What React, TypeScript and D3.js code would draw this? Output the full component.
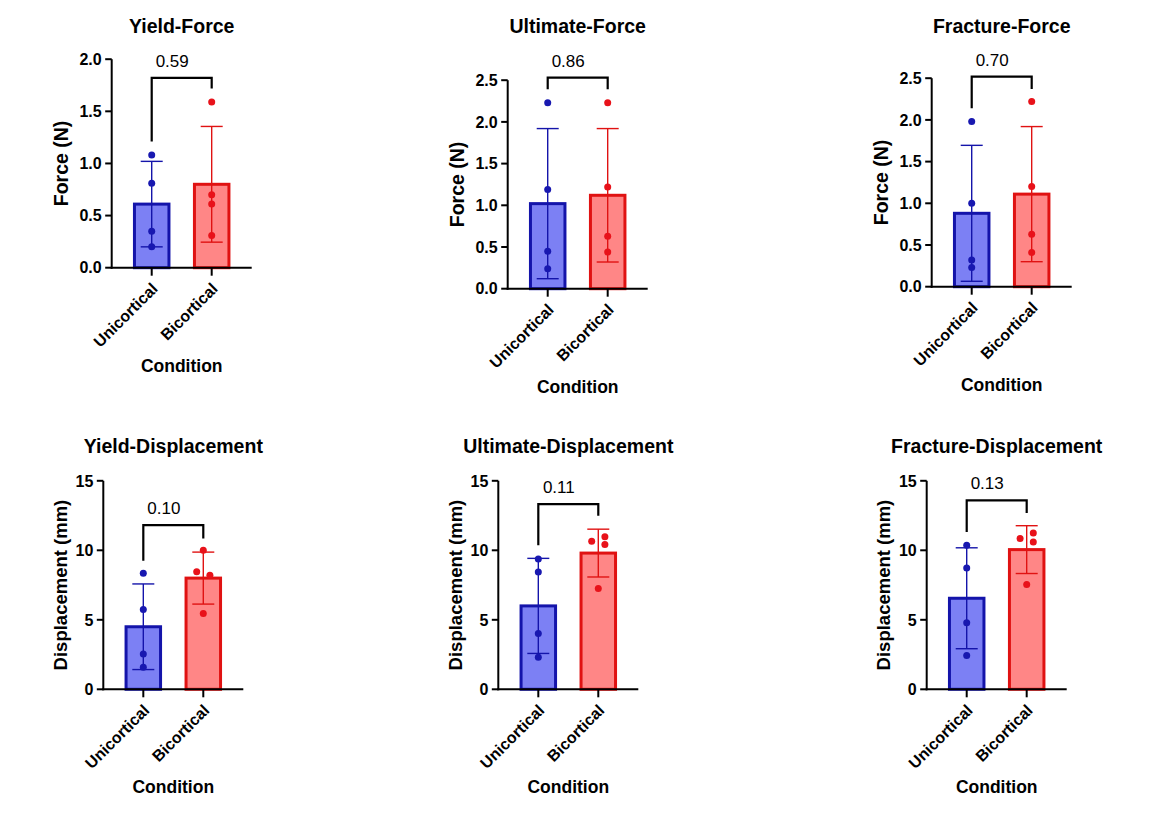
import * as d3 from 'd3';

// ---- data ----
const conditions = ['Unicortical', 'Bicortical'];
const titles = [
  'Yield-Force',
  'Ultimate-Force',
  'Fracture-Force',
  'Yield-Displacement',
  'Ultimate-Displacement',
  'Fracture-Displacement',
];
const yTitles = ['Force (N)', 'Force (N)', 'Force (N)', 'Displacement (mm)', 'Displacement (mm)', 'Displacement (mm)'];
const yMax = [2.0, 2.5, 2.5, 15, 15, 15];
const tickStep = [0.5, 0.5, 0.5, 5, 5, 5];
const pValues = ['0.59', '0.86', '0.70', '0.10', '0.11', '0.13'];

const uniMean = [0.61, 1.02, 0.88, 4.5, 6.0, 6.55];
const uniSD = [0.41, 0.9, 0.815, 3.08, 3.42, 3.63];
const bicMean = [0.8, 1.12, 1.11, 8.0, 9.8, 10.05];
const bicSD = [0.555, 0.8, 0.81, 1.87, 1.72, 1.72];

const uniPoints = [
  [1.08, 0.81, 0.35, 0.2],
  [2.23, 1.19, 0.45, 0.24],
  [1.98, 1.0, 0.32, 0.23],
  [8.34, 5.75, 2.54, 1.58],
  [9.38, 8.44, 4.02, 2.3],
  [10.36, 8.73, 4.78, 2.44],
];
const bicPoints = [
  [1.59, 0.7, 0.61, 0.31],
  [2.23, 1.22, 0.63, 0.44],
  [2.22, 1.2, 0.63, 0.41],
  [10.0, 8.45, 8.2, 5.45],
  [10.97, 10.66, 10.42, 7.26],
  [11.24, 10.84, 10.6, 7.54],
];

// comparison bracket levels (data units)
const bracketTop = [1.82, 2.53, 2.52, 11.81, 13.32, 13.59];
const bracketLeft = [1.21, 2.39, 2.14, 9.24, 10.37, 11.32];
const bracketRight = [1.72, 2.39, 2.37, 10.85, 12.48, 12.68];

// ---- layout ----
const PANELS = [
  { x: 111.7, y0: 267.7, titleY: 33.3, yTitleDx: 51, yTitleSize: 19.5 },
  { x: 507.7, y0: 288.7, titleY: 33.3, yTitleDx: 51, yTitleSize: 19.5 },
  { x: 931.7, y0: 286.7, titleY: 33.3, yTitleDx: 51, yTitleSize: 19.5 },
  { x: 103.3, y0: 689.3, titleY: 453.3, yTitleDx: 43, yTitleSize: 18.5 },
  { x: 498.3, y0: 689.3, titleY: 453.3, yTitleDx: 43, yTitleSize: 18.5 },
  { x: 926.7, y0: 689.3, titleY: 453.3, yTitleDx: 43, yTitleSize: 18.5 },
];
const PLOT_W = 140;
const PLOT_H = 208.5;
const BAR_W = 34.5;
const DOT_R = 3.5;
const FONT = '"Liberation Sans", Arial, Helvetica, sans-serif';

const COLORS = [
  { fill: '#7c80f4', stroke: '#1414aa', dot: '#1818b0' },
  { fill: '#ff8686', stroke: '#e01212', dot: '#e8121a' },
];

// spread points whose dots would overlap, alternating right/left from the lowest one
function dodge(values: number[], y: (v: number) => number, step = 6.6, thr = 6.5) {
  const order = values.map((v, i) => i).sort((a, b) => values[a] - values[b]);
  const offsets = values.map(() => 0);
  let group: number[] = [];
  const flush = () => {
    if (group.length > 1) group.forEach((idx, k) => (offsets[idx] = k % 2 === 0 ? step : -step));
    group = [];
  };
  order.forEach((idx, k) => {
    if (k > 0 && Math.abs(y(values[idx]) - y(values[order[k - 1]])) >= thr) flush();
    group.push(idx);
  });
  flush();
  return offsets;
}

function Panel({ i }: { i: number }) {
  const p = PANELS[i];
  const x = d3.scalePoint<string>().domain(conditions).range([0, PLOT_W]).padding(0.667);
  const y = d3.scaleLinear().domain([0, yMax[i]]).range([p.y0, p.y0 - PLOT_H]);
  const ticks = d3.range(0, yMax[i] + tickStep[i] / 2, tickStep[i]);
  const fmt = yMax[i] < 5 ? d3.format('.1f') : d3.format('d');

  const groups = [
    { mean: uniMean[i], sd: uniSD[i], pts: uniPoints[i] },
    { mean: bicMean[i], sd: bicSD[i], pts: bicPoints[i] },
  ];
  const cx = (c: string) => p.x + (x(c) ?? 0);
  const xL = cx(conditions[0]);
  const xR = cx(conditions[1]);
  const midX = p.x + PLOT_W / 2;

  return (
    <g fontFamily={FONT}>
      <text x={midX} y={p.titleY} textAnchor="middle" fontWeight="bold" fontSize={19.5} fill="#000">
        {titles[i]}
      </text>

      {groups.map((g, k) => {
        const c = cx(conditions[k]);
        const col = COLORS[k];
        const offs = dodge(g.pts, y);
        return (
          <g key={k}>
            <rect
              x={c - BAR_W / 2}
              y={y(g.mean)}
              width={BAR_W}
              height={p.y0 - y(g.mean)}
              fill={col.fill}
              stroke={col.stroke}
              strokeWidth={3}
            />
            <line x1={c} x2={c} y1={y(g.mean + g.sd)} y2={y(g.mean - g.sd)} stroke={col.stroke} strokeWidth={1.4} />
            <line x1={c - 11} x2={c + 11} y1={y(g.mean + g.sd)} y2={y(g.mean + g.sd)} stroke={col.stroke} strokeWidth={1.4} />
            <line x1={c - 11} x2={c + 11} y1={y(g.mean - g.sd)} y2={y(g.mean - g.sd)} stroke={col.stroke} strokeWidth={1.4} />
            {g.pts.map((v, j) => (
              <circle key={j} cx={c + offs[j]} cy={y(v)} r={DOT_R} fill={col.dot} />
            ))}
          </g>
        );
      })}

      {/* y axis */}
      <line x1={p.x} x2={p.x} y1={p.y0 + 1} y2={y(yMax[i])} stroke="#000" strokeWidth={2} />
      {ticks.map((t) => (
        <g key={t}>
          <line x1={p.x - 6.5} x2={p.x} y1={y(t)} y2={y(t)} stroke="#000" strokeWidth={2} />
          <text x={p.x - 10} y={y(t)} dy="0.36em" textAnchor="end" fontWeight="bold" fontSize={16} fill="#000">
            {fmt(t)}
          </text>
        </g>
      ))}
      <text
        transform={`translate(${p.x - p.yTitleDx},${y(yMax[i] / 2)}) rotate(-90)`}
        dy="0.36em"
        textAnchor="middle"
        fontWeight="bold"
        fontSize={p.yTitleSize}
        fill="#000"
      >
        {yTitles[i]}
      </text>

      {/* x axis */}
      <line x1={p.x - 1} x2={p.x + PLOT_W} y1={p.y0} y2={p.y0} stroke="#000" strokeWidth={2} />
      {conditions.map((c) => (
        <g key={c}>
          <line x1={cx(c)} x2={cx(c)} y1={p.y0} y2={p.y0 + 8} stroke="#000" strokeWidth={2} />
          <text
            transform={`translate(${cx(c) + 7},${p.y0 + 22}) rotate(-45)`}
            textAnchor="end"
            fontWeight="bold"
            fontSize={16}
            fill="#000"
          >
            {c}
          </text>
        </g>
      ))}
      <text x={midX} y={p.y0 + 104} textAnchor="middle" fontWeight="bold" fontSize={17.5} fill="#000">
        Condition
      </text>

      {/* comparison bracket */}
      <path
        d={`M${xL},${y(bracketLeft[i])}V${y(bracketTop[i])}H${xR}V${y(bracketRight[i])}`}
        fill="none"
        stroke="#000"
        strokeWidth={2.2}
      />
      <text x={(xL + xR) / 2 - 9.5} y={y(bracketTop[i]) - 11} textAnchor="middle" fontSize={17} fill="#000">
        {pValues[i]}
      </text>
    </g>
  );
}

export default function App() {
  return (
    <svg
      width={1152}
      height={814}
      viewBox="0 0 1152 814"
      style={{ position: 'absolute', left: 0, top: 0, background: '#fff' }}
    >
      <rect width={1152} height={814} fill="#fff" />
      {titles.map((t, i) => (
        <Panel key={t} i={i} />
      ))}
    </svg>
  );
}
